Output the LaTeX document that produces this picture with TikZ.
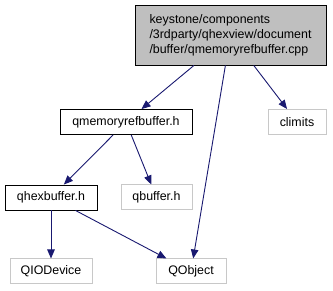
\documentclass[tikz,border=0pt]{standalone}
\usepackage{fontspec}
\setmainfont{Liberation Sans}
\usetikzlibrary{arrows.meta}
\definecolor{edgeblue}{HTML}{191970}
\definecolor{filegray}{HTML}{BFBFBF}
\definecolor{extgray}{HTML}{C8C8C8}

\begin{document}
\begin{tikzpicture}[x=1pt, y=-1pt,
  >={Triangle[length=9pt, width=7.5pt]},
  font=\fontsize{12.4}{15}\selectfont,
  filebox/.style={draw=black, line width=0.9pt, fill=white, inner sep=0pt, minimum height=25pt},
  extbox/.style={draw=extgray, line width=1pt, fill=white, inner sep=0pt, minimum height=25pt},
  incl/.style={edgeblue, line width=0.9pt, ->}]

% Background
\useasboundingbox (0,0) rectangle (333,291);

% --- Source file ---
\node[draw=black, line width=0.9pt, fill=filegray, inner sep=0pt, minimum width=191pt, minimum height=60pt,
  align=left] (cpp) at (230.5,35)
  {keystone/components\\/3rdparty/qhexview/document\\/buffer/qmemoryrefbuffer.cpp};

% --- Headers ---
\node[filebox, minimum width=132pt] (refbuf) at (126,122) {qmemoryrefbuffer.h};
\node[extbox, minimum width=58pt] (climits) at (297,122) {climits};
\node[filebox, minimum width=92pt] (hexbuf) at (51,197.5) {qhexbuffer.h};
\node[extbox, minimum width=71pt] (qbuf) at (156.5,197.5) {qbuffer.h};
\node[extbox, minimum width=82pt] (qiodev) at (51,271.5) {QIODevice};
\node[extbox, minimum width=70pt] (qobj) at (191,271.5) {QObject};

% Include edges
\draw[incl] (cpp) -- (refbuf);
\draw[incl] (cpp) -- (qobj);
\draw[incl] (cpp) -- (climits);
\draw[incl] (refbuf) -- (hexbuf);
\draw[incl] (refbuf) -- (qbuf);
\draw[incl] (hexbuf) -- (qiodev);
\draw[incl] (hexbuf) -- (qobj);

\end{tikzpicture}
\end{document}
